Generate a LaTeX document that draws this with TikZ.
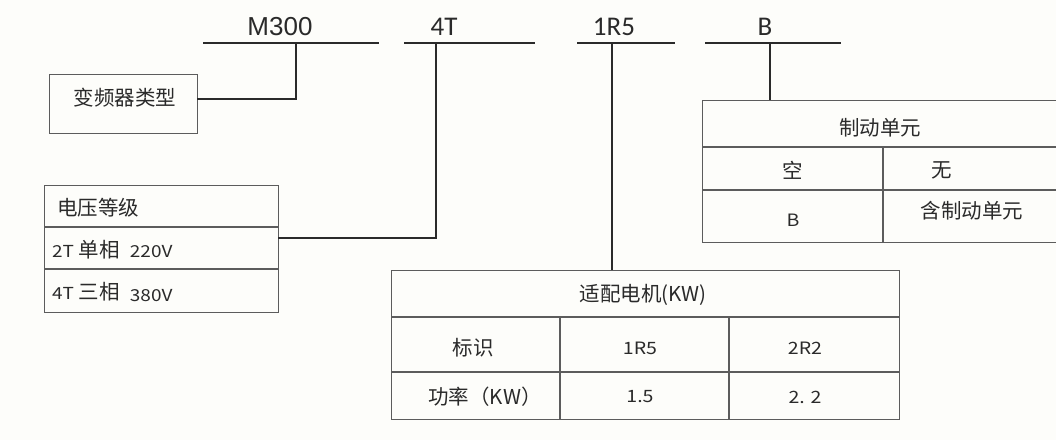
\documentclass[tikz,border=0pt]{standalone}
\usepackage{fontspec}
\setmainfont{Noto Sans CJK SC}
\newfontfamily\widefont[FakeStretch=1.15]{Noto Sans CJK SC}
\newfontfamily\latfont{Carlito}
\newfontfamily\arialfont{Liberation Sans}
\definecolor{bg}{HTML}{FDFDFA}
\definecolor{ink}{HTML}{2A2A2A}
\definecolor{frame}{HTML}{5C5C5C}
\newcommand{\wlat}[1]{{\widefont\fontsize{16.5}{18}\selectfont #1}}
\begin{document}
\begin{tikzpicture}[x=1pt,y=-1pt,
  conn/.style={draw=ink, line width=1.3pt},
  bar/.style={draw=ink, line width=1.4pt},
  frm/.style={draw=frame, line width=1.1pt},
  box/.style={frm, inner sep=0pt, anchor=north west},
  cell/.style={inner sep=0pt, text=ink, font=\fontsize{20.5}{22}\selectfont},
  small/.style={inner sep=0pt, text=ink, font=\widefont\fontsize{17}{19}\selectfont},
  toplab/.style={inner sep=0pt, anchor=base, text=ink, font=\latfont\fontsize{27}{29}\selectfont}
]
\fill[bg] (0,0) rectangle (1056,440);
\useasboundingbox (0,0) rectangle (1056,440);

% top labels and bars
\node[toplab, font=\arialfont\fontsize{26}{28}\selectfont] (lm) at (280,35) {M300};
\node[toplab] (lt) at (444,35) {4T};
\node[toplab] (lr) at (614,35) {1R5};
\node[toplab] (lb) at (765,35) {B};

\coordinate (m1) at (203,43); \coordinate (m2) at (379,43); \coordinate (mj) at (296,43);
\coordinate (t1) at (404,43); \coordinate (t2) at (535,43); \coordinate (tj) at (436,43);
\coordinate (r1) at (577,43); \coordinate (r2) at (675,43); \coordinate (rj) at (612,43);
\coordinate (b1) at (705,43); \coordinate (b2) at (841,43); \coordinate (bj) at (770,43);
\draw[bar] (m1) -- (m2);
\draw[bar] (t1) -- (t2);
\draw[bar] (r1) -- (r2);
\draw[bar] (b1) -- (b2);

% inverter type box
\node[box, minimum width=148pt, minimum height=59pt] (typebox) at (49,74) {};
\node[cell] (typetxt) at (125,98) {变频器类型};
\coordinate (typein) at (197,99);
\draw[conn] (mj) |- (typein);

% voltage table
\node[box, minimum width=234pt, minimum height=127pt] (volt) at (44,185) {};
\draw[frm] (44,227) -- (278,227);
\draw[frm] (44,269) -- (278,269);
\node[cell, anchor=west] (vh) at (57,208) {电压等级};
\node[cell, anchor=west] (v2) at (52,250) {\wlat{2T} 单相\enspace\wlat{220V}};
\node[cell, anchor=west] (v4) at (52,292) {\wlat{4T} 三相\enspace\raisebox{-2pt}{\wlat{380V}}};
\coordinate (voltin) at (278,238);
\draw[conn] (tj) |- (voltin);

% motor table
\node[box, minimum width=508pt, minimum height=149pt] (motor) at (391,270) {};
\draw[frm] (391,317) -- (899,317);
\draw[frm] (391,372) -- (899,372);
\draw[frm] (560,317) -- (560,419);
\draw[frm] (729,317) -- (729,419);
\node[cell] (mh) at (643,295) {适配电机(KW)};
\node[cell] (m21) at (473,348) {标识};
\node[small] (m22) at (640,348) {1R5};
\node[small] (m23) at (805,348) {2R2};
\node[cell] (m31) at (485,397) {功率（KW）};
\node[small] (m32) at (640,397) {1.5};
\node[small] (m33) at (805,397) {2.\,\,2};
\draw[conn] (rj) -- (rj |- motor.north);

% braking unit table
\node[box, minimum width=362pt, minimum height=142pt] (brake) at (702,100) {};
\draw[frm] (702,147) -- (1064,147);
\draw[frm] (702,190) -- (1064,190);
\draw[frm] (883,147) -- (883,242);
\node[cell] (bh) at (880,128) {制动单元};
\node[cell] (b21) at (793,170) {空};
\node[cell] (b22) at (942,170) {无};
\node[small] (b31) at (793,220) {B};
\node[cell] (b32) at (972,211) {含制动单元};
\draw[conn] (bj) -- (bj |- brake.north);
\end{tikzpicture}
\end{document}
